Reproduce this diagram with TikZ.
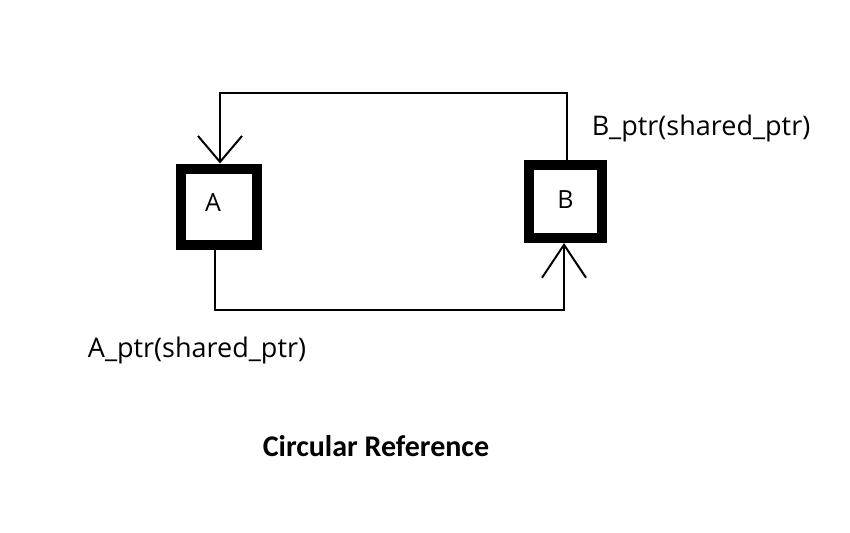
\documentclass[tikz,border=0pt]{standalone}
\usepackage{fontspec}
\setmainfont{Open Sans}
\newfontfamily\calib{Carlito}
\usetikzlibrary{arrows.meta}
\begin{document}
\begin{tikzpicture}[x=1pt,y=-1pt,
  box/.style={draw,line width=10pt,minimum size=#1,inner sep=0pt,font=\fontsize{25}{28}\selectfont},
  conn/.style={line width=2pt},
  barb/.style={-{Straight Barb[length=#1,width=44pt,line width=2pt]}},
  lbl/.style={font=\fontsize{27}{31}\selectfont,inner sep=0pt}]
\useasboundingbox (0,0) rectangle (850,532);
\node[box=76pt] (A) at (219,206.5) {\raisebox{7pt}{\hspace*{-12pt}A}};
\node[box=73pt] (B) at (565.5,201.5) {\raisebox{4pt}{B}};
\coordinate (ta) at (220,93);
\coordinate (tb) at (567,93);
\coordinate (ba) at (215,310);
\coordinate (bb) at (564,310);
\draw[conn,barb=26pt] ([xshift=1.5pt]B.north) -- (tb) -- (ta) -- ([xshift=1pt]A.north);
\draw[conn,barb=33pt] ([xshift=-4pt]A.south) -- (ba) -- (bb) -- ([xshift=-1.5pt]B.south);
\node[lbl] (lb) at (701,128) {B\_ptr(shared\_ptr)};
\node[lbl] (la) at (197,350) {A\_ptr(shared\_ptr)};
\node[inner sep=0pt,font=\calib\bfseries\fontsize{30}{34}\selectfont] (t) at (376,446) {Circular Reference};
\end{tikzpicture}
\end{document}
